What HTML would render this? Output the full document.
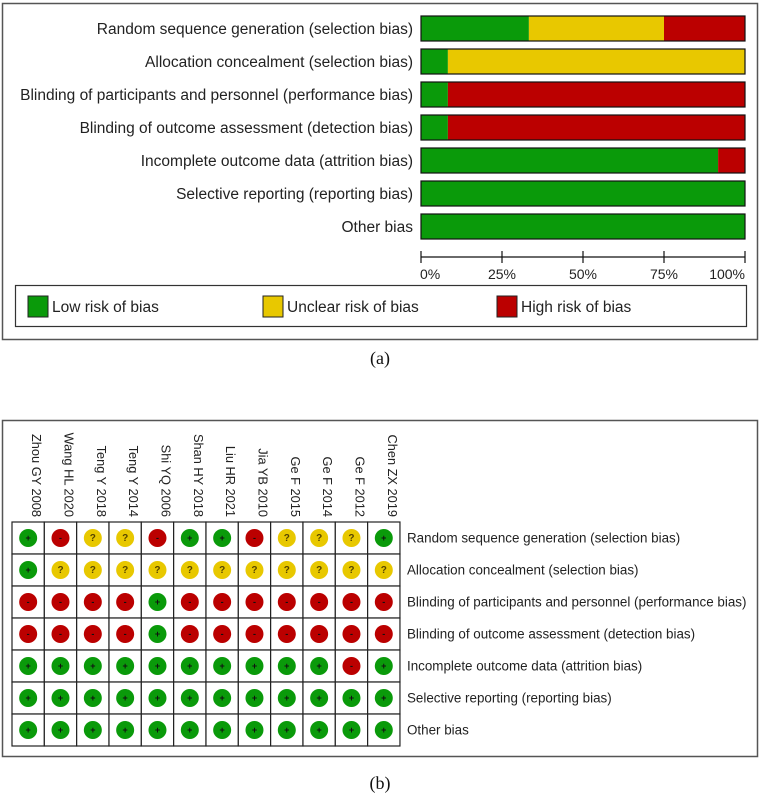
<!DOCTYPE html>
<html><head><meta charset="utf-8"><style>
html,body{margin:0;padding:0;background:#fff;}
svg{display:block;font-family:"Liberation Sans",sans-serif;}
</style></head><body>
<svg id="chart" width="761" height="797" viewBox="0 0 761 797" xmlns="http://www.w3.org/2000/svg"></svg>
<script>
const domains = ["Random sequence generation (selection bias)","Allocation concealment (selection bias)","Blinding of participants and personnel (performance bias)","Blinding of outcome assessment (detection bias)","Incomplete outcome data (attrition bias)","Selective reporting (reporting bias)","Other bias"];
const lowPct = [33.3, 8.3, 8.3, 8.3, 91.7, 100, 100];
const unclearPct = [41.7, 91.7, 0, 0, 0, 0, 0];
const highPct = [25, 0, 91.7, 91.7, 8.3, 0, 0];
const tickLabels = ["0%","25%","50%","75%","100%"];
const tickValues = [0,25,50,75,100];
const studies = ["Zhou GY 2008","Wang HL 2020","Teng Y 2018","Teng Y 2014","Shi YQ 2006","Shan HY 2018","Liu HR 2021","Jia YB 2010","Ge F 2015","Ge F 2014","Ge F 2012","Chen ZX 2019"];
const judgements = [
 ["+","-","?","?","-","+","+","-","?","?","?","+"],
 ["+","?","?","?","?","?","?","?","?","?","?","?"],
 ["-","-","-","-","+","-","-","-","-","-","-","-"],
 ["-","-","-","-","+","-","-","-","-","-","-","-"],
 ["+","+","+","+","+","+","+","+","+","+","-","+"],
 ["+","+","+","+","+","+","+","+","+","+","+","+"],
 ["+","+","+","+","+","+","+","+","+","+","+","+"]
];
const GREEN="#0a9a0a", YELLOW="#e8c800", RED="#bb0000";
const NS="http://www.w3.org/2000/svg";
const svg=document.getElementById('chart');
function mk(tag,attrs,parent,text){const e=document.createElementNS(NS,tag);for(const k in attrs)e.setAttribute(k,attrs[k]);if(text!==undefined)e.textContent=text;(parent||svg).appendChild(e);return e;}

// Panel a
let el=mk('rect',{x:2.5,y:3.5,width:755,height:336,fill:'none',stroke:'#555','stroke-width':1.5});


const bx0=421,bx1=745;
const xs=v=>bx0+(bx1-bx0)*v/100;
const rowY=i=>16+i*33;
const barH=25;
domains.forEach((d,i)=>{
  const y=rowY(i);
  let t=mk('text',{x:413,y:y+barH/2+5.5,'text-anchor':'end','font-size':15.5,fill:'#222'},svg,d);
  
  
  const segs=[[lowPct[i],GREEN],[unclearPct[i],YELLOW],[highPct[i],RED]];
  let acc=0;
  segs.forEach(([v,c],k)=>{
    if(v<=0)return;
    let r=mk('rect',{x:xs(acc),y:y,width:xs(acc+v)-xs(acc),height:barH,fill:c});
    
    
    acc+=v;
  });
  let o=mk('rect',{x:bx0,y:y,width:bx1-bx0,height:barH,fill:'none',stroke:'#111','stroke-width':1.2});
  
  
});
let ax=mk('line',{x1:bx0,x2:bx1,y1:257,y2:257,stroke:'#111','stroke-width':1.2});


tickValues.forEach((v,i)=>{
  let tk=mk('line',{x1:xs(v),x2:xs(v),y1:251,y2:263,stroke:'#111','stroke-width':1.2});
  
  
  const anchor=i===0?'start':(i===tickValues.length-1?'end':'middle');
  let tl=mk('text',{x:xs(v)+(i===0?-1:0),y:279,'text-anchor':anchor,'font-size':14,fill:'#222'},svg,tickLabels[i]);
  
  
});
let lb=mk('rect',{x:15.5,y:285.5,width:731,height:41,fill:'none',stroke:'#333','stroke-width':1.2});


[["Low risk of bias",GREEN,28],["Unclear risk of bias",YELLOW,263],["High risk of bias",RED,497]].forEach(([lab,c,x])=>{
  let g=mk('g',{});
  
  
  mk('rect',{x:x,y:296,width:20,height:21,fill:c,stroke:'#222','stroke-width':1},g);
  mk('text',{x:x+24,y:312,'font-size':15.5,fill:'#222'},g,lab);
});
let ca=mk('text',{x:380,y:364,'text-anchor':'middle','font-size':18,'font-family':'Liberation Serif, serif',fill:'#111'},svg,'(a)');



// Panel b
let pb=mk('rect',{x:2.5,y:420.5,width:755,height:336,fill:'none',stroke:'#555','stroke-width':1.5});


const gx0=12,gy0=522,cw=32.33,rh=32;
studies.forEach((s,j)=>{
  const cx=gx0+cw*(j+0.5)+4;
  let t=mk('text',{x:0,y:0,'text-anchor':'end','font-size':12.8,fill:'#222',transform:`translate(${cx},517) rotate(90)`},svg,s);
  
  
});
domains.forEach((d,i)=>{
  let t=mk('text',{x:407,y:gy0+rh*(i+0.5)+4.5,'font-size':13.4,fill:'#222'},svg,d);
  
  
  studies.forEach((s,j)=>{
    const cx=gx0+cw*(j+0.5), cy=gy0+rh*(i+0.5);
    let cell=mk('rect',{x:gx0+cw*j,y:gy0+rh*i,width:cw,height:rh,fill:'#fff',stroke:'#222','stroke-width':1.2});
    
    
    const v=judgements[i][j];
    const c=v==='+'?GREEN:(v==='?'?YELLOW:RED);
    let dot=mk('circle',{cx:cx,cy:cy,r:9,fill:c});
    
    
    let sym=mk('text',{x:cx,y:cy+3,'text-anchor':'middle','font-size':v==='?'?10:9,'font-weight':'bold',fill:v==='?'?'#554400':'#111'},svg,v);
    
    
  });
});
let cb=mk('text',{x:380,y:789,'text-anchor':'middle','font-size':18,'font-family':'Liberation Serif, serif',fill:'#111'},svg,'(b)');


</script>
</body></html>
